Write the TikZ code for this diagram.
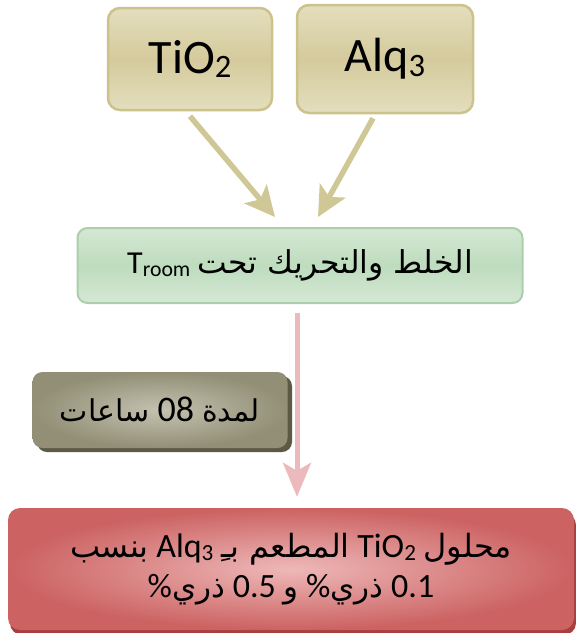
\documentclass[tikz,border=0pt]{standalone}
\usepackage{fontspec}
\usepackage{graphicx}
\setmainfont{Carlito}
\newfontfamily\arabicfont[Script=Arabic]{DejaVu Sans}
\TeXXeTstate=1
\usetikzlibrary{arrows.meta,calc}
\definecolor{tanL}{RGB}{228,222,190}
\definecolor{tanM}{RGB}{212,202,156}
\definecolor{tanB}{RGB}{204,194,140}
\definecolor{tanA}{RGB}{208,199,150}
\definecolor{grnL}{RGB}{212,232,212}
\definecolor{grnM}{RGB}{190,220,190}
\definecolor{grnB}{RGB}{172,206,172}
\definecolor{gryO}{RGB}{146,143,118}
\definecolor{gryI}{RGB}{196,194,176}
\definecolor{gryS}{RGB}{92,90,68}
\definecolor{redO}{RGB}{204,98,98}
\definecolor{redI}{RGB}{238,184,184}
\definecolor{redS}{RGB}{168,62,62}
\definecolor{pinkA}{RGB}{236,186,189}
\newcommand\AR[1]{{\arabicfont #1}}
\newcommand\sub[1]{\raisebox{-0.09em}{\scalebox{0.68}{#1}}}
\tikzset{
  tanbox/.style={draw=tanB, line width=2.5pt, rounded corners=12pt, top color=tanL, bottom color=tanL, middle color=tanM, inner sep=0pt},
  grnbox/.style={draw=grnB, line width=2pt, rounded corners=10pt, top color=grnL, bottom color=grnL, middle color=grnM, inner sep=0pt},
  grybox/.style={rounded corners=10pt, inner color=gryI, outer color=gryO, inner sep=0pt},
  redbox/.style={rounded corners=12pt, inner color=redI, outer color=redO, inner sep=0pt},
  tanarrow/.style={draw=tanA, line width=5.5pt, -{Stealth[length=30pt,width=29pt,inset=7pt]}},
  pinkarrow/.style={draw=pinkA, line width=5pt, -{Stealth[length=34pt,width=28pt,inset=8pt]}},
}
\begin{document}
\begin{tikzpicture}[x=1pt,y=-1pt]
\useasboundingbox (0,0) rectangle (576,633);
% nodes
\node[tanbox, minimum width=164pt, minimum height=102pt, font=\fontsize{48}{52}\selectfont] (tio) at (190,59) {TiO\sub{2}};
\node[tanbox, minimum width=176pt, minimum height=108pt, font=\fontsize{48}{52}\selectfont] (alq) at (385,59) {Alq\sub{3}};
\node[grnbox, minimum width=445pt, minimum height=75pt, font=\fontsize{32}{36}\selectfont] (mix) at (300,265.5)
  {\beginR\AR{\fontsize{31.5}{34}\selectfont الخلط والتحريك تحت} \beginL T\sub{room}\endL\endR};
% gray box with shadow
\fill[gryS, rounded corners=10pt] (37,376) rectangle (292,452);
\node[grybox, minimum width=255pt, minimum height=76pt, font=\fontsize{36}{40}\selectfont] (dur) at (160,410)
  {\beginR\AR{\fontsize{30}{34}\selectfont لمدة} \beginL 08\endL{} \AR{\fontsize{30}{34}\selectfont ساعات}\endR};
% red box with shadow
\fill[redS, rounded corners=12pt] (10,513) rectangle (576,635);
\node[redbox, minimum width=566pt, minimum height=122pt, font=\fontsize{34}{40}\selectfont, align=center] (res) at (291,569)
  {\beginR\AR{\fontsize{32}{36}\selectfont محلول} \beginL TiO\sub{2}\endL{} \AR{\fontsize{32}{36}\selectfont المطعم بـِ} \beginL Alq\sub{3}\endL{} \AR{\fontsize{32}{36}\selectfont بنسب}\endR\\[0pt]
   \beginR\beginL 0.1\endL{} \AR{\fontsize{31}{34}\selectfont ذري}\% \AR{\fontsize{31}{34}\selectfont و} \beginL 0.5\endL{} \AR{\fontsize{31}{34}\selectfont ذري}\%\endR};
% arrows
\draw[tanarrow] ([yshift=-5pt]tio.south) -- ([xshift=-25pt,yshift=10pt]mix.north);
\draw[tanarrow] ([xshift=-12pt,yshift=-4pt]alq.south) -- ([xshift=18pt,yshift=10pt]mix.north);
\draw[pinkarrow] ([xshift=-3pt,yshift=-9pt]mix.south) -- ([xshift=-3pt,yshift=11pt]mix.south |- res.north);
\end{tikzpicture}
\end{document}
